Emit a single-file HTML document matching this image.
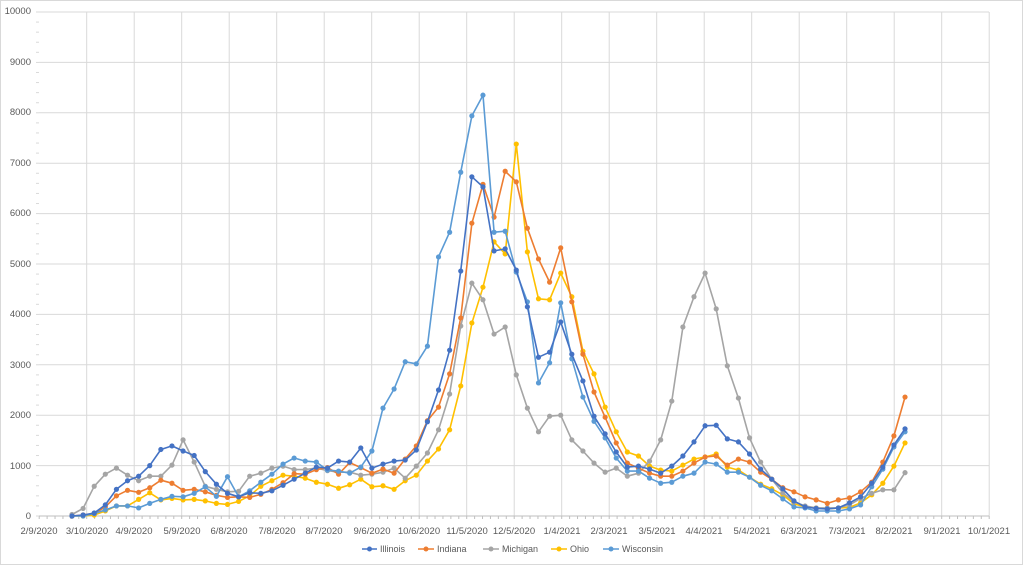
<!DOCTYPE html>
<html><head><meta charset="utf-8"><style>
html,body{margin:0;padding:0;background:#fff;}
svg{display:block;font-family:"Liberation Sans",sans-serif;}
</style></head><body>
<svg id="c" width="1023" height="565" viewBox="0 0 1023 565" xmlns="http://www.w3.org/2000/svg">
<rect x="0.5" y="0.5" width="1022" height="564" fill="#fff" stroke="#d9d9d9"/>
<g id="grid" stroke="#d9d9d9" stroke-width="1"></g>
<g fill="#595959" font-size="9.5" text-anchor="end">
<text x="31" y="519">0</text><text x="31" y="469">1000</text><text x="31" y="418">2000</text><text x="31" y="368">3000</text><text x="31" y="317">4000</text><text x="31" y="267">5000</text><text x="31" y="216">6000</text><text x="31" y="166">7000</text><text x="31" y="115">8000</text><text x="31" y="65">9000</text><text x="31" y="14">10000</text>
</g>
<g fill="#595959" font-size="9.5" text-anchor="middle">
<text x="39" y="534">2/9/2020</text><text x="87" y="534">3/10/2020</text><text x="134" y="534">4/9/2020</text><text x="182" y="534">5/9/2020</text><text x="229" y="534">6/8/2020</text><text x="277" y="534">7/8/2020</text><text x="324" y="534">8/7/2020</text><text x="372" y="534">9/6/2020</text><text x="419" y="534">10/6/2020</text><text x="467" y="534">11/5/2020</text><text x="514" y="534">12/5/2020</text><text x="562" y="534">1/4/2021</text><text x="609" y="534">2/3/2021</text><text x="657" y="534">3/5/2021</text><text x="704" y="534">4/4/2021</text><text x="752" y="534">5/4/2021</text><text x="799" y="534">6/3/2021</text><text x="847" y="534">7/3/2021</text><text x="894" y="534">8/2/2021</text><text x="942" y="534">9/1/2021</text><text x="989" y="534">10/1/2021</text>
</g>
<g id="series"></g>
<g font-size="9" fill="#595959">
<line x1="362" y1="549" x2="377" y2="549" stroke="#4472C4" stroke-width="1.5"/><circle cx="369.5" cy="549" r="2.5" fill="#4472C4"/><text x="380" y="552">Illinois</text>
<line x1="418" y1="549" x2="434" y2="549" stroke="#ED7D31" stroke-width="1.5"/><circle cx="426" cy="549" r="2.5" fill="#ED7D31"/><text x="437" y="552">Indiana</text>
<line x1="483" y1="549" x2="499" y2="549" stroke="#A5A5A5" stroke-width="1.5"/><circle cx="491" cy="549" r="2.5" fill="#A5A5A5"/><text x="502" y="552">Michigan</text>
<line x1="551" y1="549" x2="567" y2="549" stroke="#FFC000" stroke-width="1.5"/><circle cx="559" cy="549" r="2.5" fill="#FFC000"/><text x="570" y="552">Ohio</text>
<line x1="603" y1="549" x2="619" y2="549" stroke="#5B9BD5" stroke-width="1.5"/><circle cx="611" cy="549" r="2.5" fill="#5B9BD5"/><text x="622" y="552">Wisconsin</text>
</g>
</svg>
<script>
var NS="http://www.w3.org/2000/svg";
function el(t,a,p){var e=document.createElementNS(NS,t);for(var k in a)e.setAttribute(k,a[k]);p.appendChild(e);return e;}
var g=document.getElementById('grid');
function Y(v){return 516-v*0.0504;}
for(var i=1;i<=10;i++){var y=Y(i*1000);el('line',{x1:39,x2:989,y1:y,y2:y},g);}
for(var i=1;i<=20;i++){var x=39.2+i*47.5;el('line',{x1:x,x2:x,y1:12,y2:516},g);}
el('line',{x1:39,x2:989,y1:516,y2:516,stroke:'#bfbfbf'},g);
for(var i=0;i<=120;i++){var x=39.2+i*47.5/6;el('line',{x1:x,x2:x,y1:516,y2:519,stroke:'#bfbfbf'},g);}
for(var i=0;i<=50;i++){var y=516-i*10.08;el('line',{x1:36,x2:39,y1:y,y2:y,stroke:'#d9d9d9'},g);}
var D={
"#FFC000":[0,0,20,100,200,200,330,460,320,350,320,330,300,250,230,290,400,590,700,810,790,750,670,630,550,620,730,580,600,530,700,810,1090,1330,1710,2580,3830,4540,5440,5200,7380,5240,4310,4290,4820,4350,3270,2820,2160,1670,1270,1190,990,910,890,1010,1130,1170,1230,970,910,770,630,540,420,240,180,160,140,160,170,260,420,650,990,1450],
"#A5A5A5":[30,150,590,830,950,810,700,790,790,1010,1510,1070,590,530,480,490,790,850,950,990,920,920,950,900,870,870,810,830,870,950,750,990,1250,1710,2420,3770,4620,4290,3610,3750,2800,2140,1670,1980,2000,1510,1290,1050,870,950,790,850,1090,1510,2280,3750,4350,4820,4110,2980,2340,1550,1070,730,460,280,200,160,160,160,220,350,450,520,520,860],
"#ED7D31":[0,20,50,180,400,510,470,560,710,650,510,530,480,410,370,380,370,430,530,660,840,830,920,960,830,1060,960,850,930,850,1130,1390,1890,2160,2820,3930,5810,6580,5930,6840,6630,5710,5100,4640,5320,4250,3210,2460,1960,1450,1050,950,850,790,790,890,1050,1170,1190,1010,1130,1070,870,730,560,480,380,320,250,320,360,480,670,1070,1590,2360],
"#5B9BD5":[0,0,50,120,200,200,160,250,330,390,380,450,580,390,780,380,500,670,830,1030,1150,1090,1070,910,890,850,970,1290,2140,2520,3060,3020,3370,5140,5630,6820,7940,8350,5630,5650,4840,4250,2640,3040,4230,3120,2360,1880,1550,1150,890,890,750,650,670,790,850,1070,1030,870,870,770,610,500,340,180,160,100,100,100,140,220,580,930,1370,1670],
"#4472C4":[0,20,60,220,530,700,790,1000,1320,1390,1290,1200,880,630,450,380,460,450,500,610,730,850,970,950,1090,1070,1350,950,1030,1090,1110,1310,1870,2500,3290,4860,6730,6530,5260,5300,4880,4150,3150,3250,3850,3210,2680,1980,1630,1270,970,990,930,850,990,1190,1470,1790,1800,1530,1470,1230,930,730,540,300,180,150,140,160,260,380,650,970,1410,1730]
};
var s=document.getElementById('series');
for(var c in D){var a=D[c],pts=[];var gg=el('g',{},s);
for(var i=0;i<a.length;i++){pts.push((72+i*11.107).toFixed(1)+','+Y(a[i]).toFixed(1));}
el('polyline',{points:pts.join(' '),fill:'none',stroke:c,'stroke-width':1.6,'stroke-linejoin':'round'},gg);
for(var i=0;i<a.length;i++){el('circle',{cx:72+i*11.107,cy:Y(a[i]),r:2.6,fill:c},gg);}}
</script>
</body></html>
